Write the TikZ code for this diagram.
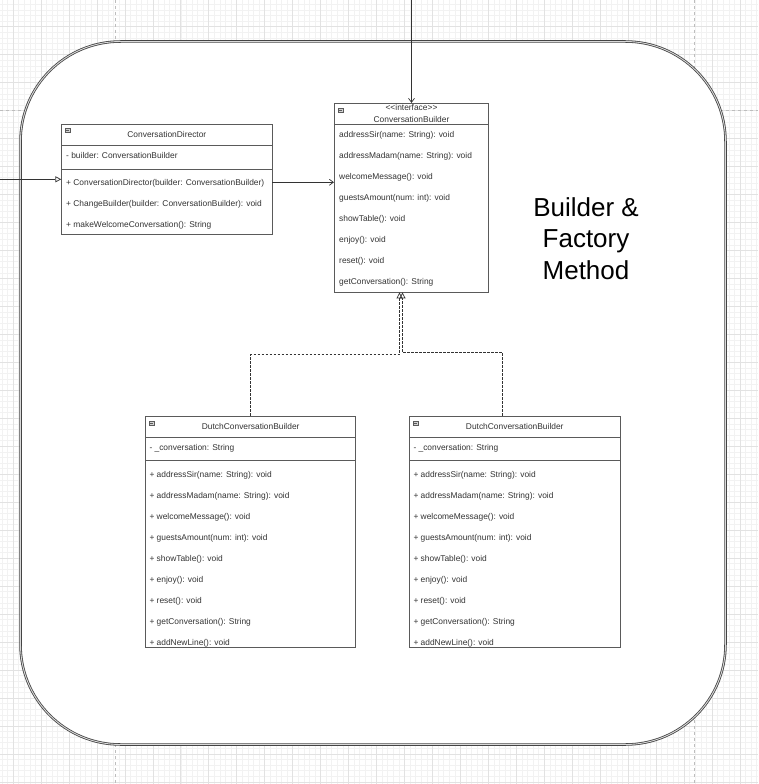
\documentclass[tikz,border=0pt]{standalone}
\usepackage{fontspec}
\setmainfont{Liberation Sans}
\usetikzlibrary{arrows.meta}
\definecolor{txt}{HTML}{333333}
\definecolor{border}{HTML}{5A5A5A}
\definecolor{framec}{HTML}{444444}
\definecolor{gmajor}{HTML}{E2E2E2}
\definecolor{gminor}{HTML}{F2F2F2}
\definecolor{pbreak}{HTML}{BDBDBD}
\newcommand\umlicon[2]{%
  \draw[border,fill=gray!35,line width=0.4pt] (#1-2.6,#2-2.1) rectangle (#1+2.6,#2+2.1);
  \draw[border,line width=0.6pt] (#1-1.6,#2) -- (#1+1.6,#2);}
\begin{document}
\begin{tikzpicture}[x=1pt,y=-1pt,
  cls/.style={draw=border,fill=white,line width=0.8pt,inner sep=0pt},
  sep/.style={draw=border,line width=0.8pt},
  mem/.style={anchor=west,inner sep=0pt,text height=6pt,text depth=0pt,text=txt,font=\fontsize{8.4}{10}\selectfont},
  ctr/.style={mem,anchor=center},
  conn/.style={draw=txt,line width=0.7pt},
  real/.style={conn,dash pattern=on 2.5pt off 1.5pt,-{Triangle[open,length=6pt,width=6pt]}},
  minor/.style={draw=gminor,line width=0.5pt},
  major/.style={draw=gmajor,line width=0.6pt},
  pagebr/.style={draw=pbreak,line width=0.6pt,dash pattern=on 3pt off 3pt}]
\useasboundingbox (0,0) rectangle (758,784);
\fill[white] (0,0) rectangle (758,784);
% grid
\foreach \i in {-2,...,134} {\draw[minor] ({13+5.592*\i},0) -- ({13+5.592*\i},784);}
\foreach \j in {-4,...,136} {\draw[minor] (0,{26.7+5.594*\j}) -- (758,{26.7+5.594*\j});}
\foreach \i in {0,...,26} {\draw[major] ({13+27.96*\i},0) -- ({13+27.96*\i},784);}
\foreach \j in {-1,...,27} {\draw[major] (0,{26.7+27.97*\j}) -- (758,{26.7+27.97*\j});}
% page breaks
\draw[pagebr] (115.5,0) -- (115.5,784);
\draw[pagebr] (694,0) -- (694,784);
\draw[pagebr] (0,110) -- (758,110);
% frame
\node[draw=framec,fill=white,rounded corners=100pt,double=white!85!black,double distance=0.9pt,line width=0.8pt,
      minimum width=705pt,minimum height=703pt,inner sep=0pt] (frame) at (373,393) {};
\node[font=\fontsize{26}{31.5}\selectfont,align=center,text=black] (title) at (586,238.5) {Builder \&\\Factory\\Method};

% ConversationDirector
\node[cls,minimum width=210.3pt,minimum height=110pt] (dir) at (166.85,179.3) {};
\draw[sep] (dir.west |- 0,145.3) -- (dir.east |- 0,145.3);
\draw[sep] (dir.west |- 0,169) -- (dir.east |- 0,169);
\umlicon{67.7}{130.3}
\node[ctr] (dirT) at (166.85,134.3) {ConversationDirector};
\node[mem] (dirA) at (66,155) {- builder: ConversationBuilder};
\node[mem] (dirM1) at (66,182.3) {+ ConversationDirector(builder: ConversationBuilder)};
\node[mem] (dirM2) at (66,203.3) {+ ChangeBuilder(builder: ConversationBuilder): void};
\node[mem] (dirM3) at (66,224.3) {+ makeWelcomeConversation(): String};

% ConversationBuilder (interface)
\node[cls,minimum width=154.4pt,minimum height=188.7pt] (cb) at (411.5,197.65) {};
\draw[sep] (cb.west |- 0,124) -- (cb.east |- 0,124);
\umlicon{340.8}{110}
\node[ctr] (cbS) at (411.5,107.5) {<{}<interface>{}>};
\node[ctr] (cbT) at (411.5,119.3) {ConversationBuilder};
\foreach \t [count=\k from 0] in {addressSir(name: String): void,addressMadam(name: String): void,welcomeMessage(): void,guestsAmount(num: int): void,showTable(): void,enjoy(): void,reset(): void,getConversation(): String}
  {\node[mem] (cbM\k) at (339,{134+21.05*\k}) {\t};}

% Dutch builders
\node[cls,minimum width=210pt,minimum height=231.1pt] (d1) at (250.7,531.75) {};
\node[cls,minimum width=210.5pt,minimum height=231.1pt] (d2) at (514.75,531.75) {};
\foreach \b/\xl/\xc in {d1/149.3/250.7,d2/413.3/514.75} {
  \draw[sep] (\b.west |- 0,437.3) -- (\b.east |- 0,437.3);
  \draw[sep] (\b.west |- 0,460.7) -- (\b.east |- 0,460.7);
  \umlicon{\xl+2.4}{422.8}
  \node[ctr] (\b T) at (\xc,426.3) {DutchConversationBuilder};
  \node[mem] (\b A) at (\xl,447.3) {- \_conversation: String};
  \foreach \t [count=\k from 0] in {addressSir(name: String): void,addressMadam(name: String): void,welcomeMessage(): void,guestsAmount(num: int): void,showTable(): void,enjoy(): void,reset(): void,getConversation(): String,addNewLine(): void}
    {\node[mem] (\b M\k) at (\xl,{474.2+21*\k}) {+ \t};}
}

% connectors
\coordinate (inL) at (0,179.3);
\coordinate (inT) at (411.5,0);
\draw[conn,-{Triangle[open,length=6pt,width=6pt]}] (inL) -- (dir.west);
\draw[conn,-{Straight Barb[length=4pt,width=6pt]}] ([yshift=-3pt]dir.east) -- ([yshift=-3pt]dir.east -| cb.west);
\draw[conn,-{Straight Barb[length=4pt,width=6pt]}] (inT) -- (cb.north);
\draw[real] (d1.north) -- ++(0,-61) -| ([xshift=-12pt]cb.south);
\draw[real] ([xshift=-12.25pt]d2.north) -- ++(0,-63) -| ([xshift=-9pt]cb.south);
\end{tikzpicture}
\end{document}
